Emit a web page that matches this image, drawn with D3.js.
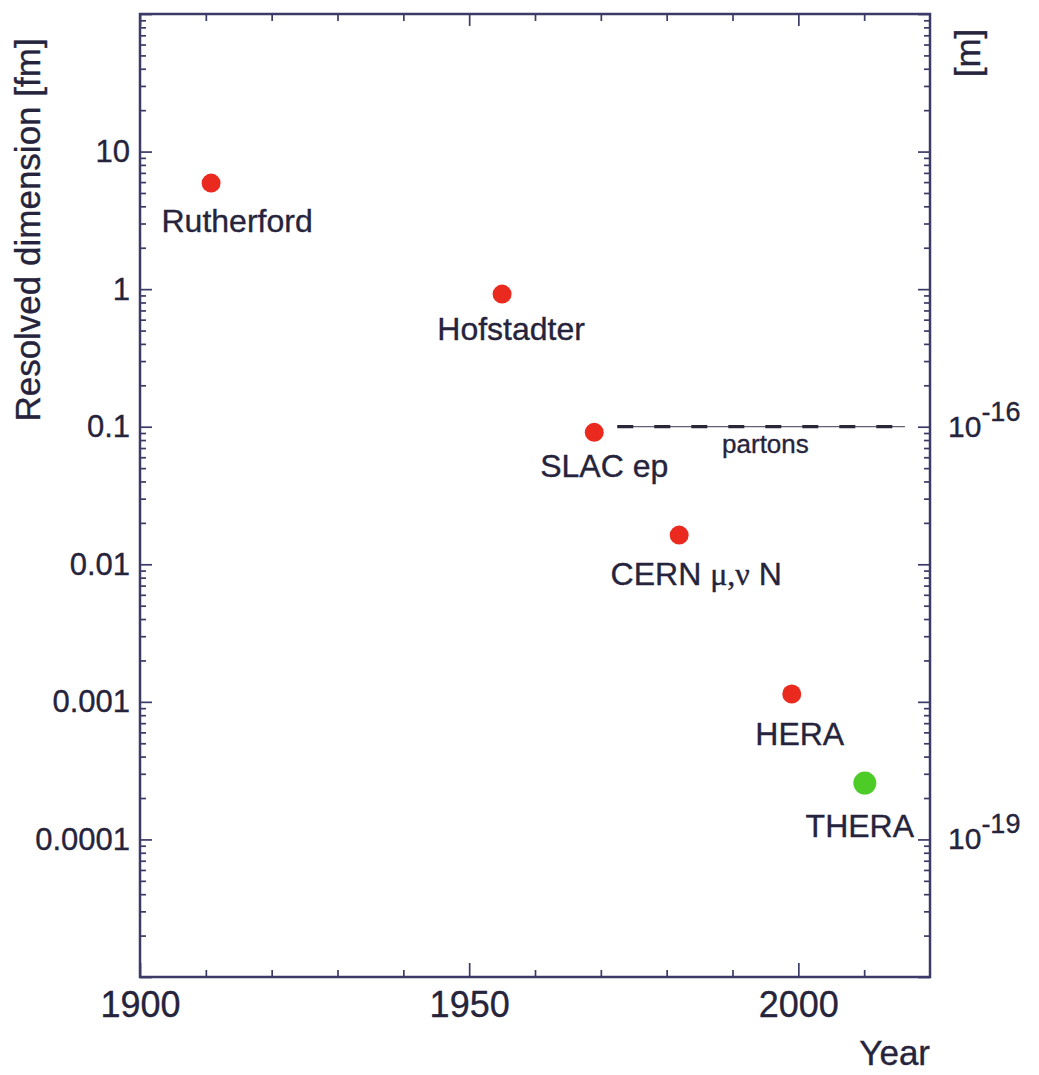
<!DOCTYPE html>
<html>
<head>
<meta charset="utf-8">
<script src="https://cdn.jsdelivr.net/npm/d3@7"></script>
<style>
  body { margin: 0; background: #fff; }
  text { font-family: "Liberation Sans", Arial, Helvetica, sans-serif; fill: #25243c; stroke: #25243c; stroke-width: 0.35px; }
</style>
</head>
<body>
<svg id="chart" width="1039" height="1075"></svg>
<script>
// data
const experiments = ["Rutherford", "Hofstadter", "SLAC ep", "CERN μ,ν N", "HERA", "THERA"];
const years = [1910.8, 1955, 1969, 1981.9, 1999, 2010.1];
const dimensionsFm = [5.9, 0.92, 0.091, 0.0163, 0.00114, 0.000257];
const proposed = [false, false, false, false, false, true];
const partonYears = [1972.5, 2016.2];
const partonSize = 0.1;
const yTickValues = [10, 1, 0.1, 0.01, 0.001, 0.0001];
const yTickLabels = ["10", "1", "0.1", "0.01", "0.001", "0.0001"];
const xTickValues = [1900, 1950, 2000];
const metreTicks = [1e-16, 1e-19];
const metreTickExponents = ["-16", "-19"];

const axisColor = "#3c3a66";
const margin = { top: 14, right: 109, bottom: 98, left: 140 };
const width = 1039, height = 1075;

const svg = d3.select("#chart");

const x = d3.scaleLinear().domain([1900, 2020]).range([margin.left, width - margin.right]);
const y = d3.scaleLog().domain([1e-5, 100]).range([height - margin.bottom, margin.top]);
const yM = d3.scaleLog().domain([1e-20, 1e-13]).range([height - margin.bottom, margin.top]);

// minor tick values (2..9 per decade, every 10 years)
const minorY = [];
for (let e = -5; e < 2; e++) {
  for (let k = 2; k <= 9; k++) minorY.push(k * Math.pow(10, e));
}
const majorY = d3.range(-5, 3).map(e => Math.pow(10, e));
const minorX = d3.range(1910, 2020, 10).filter(v => v % 50 !== 0);

const x0 = x.range()[0], x1 = x.range()[1];
const y0 = y.range()[0], y1 = y.range()[1];

function styleAxis(g) {
  g.select(".domain").remove();
  g.selectAll(".tick line").attr("stroke", axisColor).attr("stroke-width", 1.7);
}

// left axis
svg.append("g").attr("transform", `translate(${x0},0)`)
  .call(d3.axisLeft(y).tickValues(minorY).tickSize(-6).tickFormat(""))
  .call(styleAxis);
svg.append("g").attr("transform", `translate(${x0},0)`)
  .call(d3.axisLeft(y).tickValues(majorY).tickSize(-12).tickFormat(""))
  .call(styleAxis);
svg.append("g").attr("transform", `translate(${x0},0)`)
  .call(d3.axisLeft(y).tickValues(yTickValues).tickSize(0).tickPadding(10)
    .tickFormat((d, i) => yTickLabels[i]))
  .call(styleAxis)
  .selectAll("text").attr("font-size", 31).attr("fill", "#25243c")
  .attr("font-family", "Liberation Sans, Arial, sans-serif");

// right axis in metres
svg.append("g").attr("transform", `translate(${x1},0)`)
  .call(d3.axisRight(yM).tickValues(minorY.map(v => v * 1e-15)).tickSize(-6).tickFormat(""))
  .call(styleAxis);
svg.append("g").attr("transform", `translate(${x1},0)`)
  .call(d3.axisRight(yM).tickValues(majorY.map(v => v * 1e-15)).tickSize(-12).tickFormat(""))
  .call(styleAxis);
const rLab = svg.append("g").selectAll("text").data(metreTicks).join("text")
  .attr("x", x1 + 18)
  .attr("y", d => yM(d) + 10)
  .attr("font-size", 30);
rLab.append("tspan").text("10");
rLab.append("tspan").attr("font-size", 27).attr("dy", -16).text((d, i) => metreTickExponents[i]);

// bottom axis
svg.append("g").attr("transform", `translate(0,${y0})`)
  .call(d3.axisBottom(x).tickValues(minorX).tickSize(-7).tickFormat(""))
  .call(styleAxis);
svg.append("g").attr("transform", `translate(0,${y0})`)
  .call(d3.axisBottom(x).tickValues(xTickValues).tickSize(-14).tickPadding(14).tickFormat(d3.format("d")))
  .call(styleAxis)
  .selectAll("text").attr("font-size", 36).attr("fill", "#25243c")
  .attr("font-family", "Liberation Sans, Arial, sans-serif");

// top axis
svg.append("g").attr("transform", `translate(0,${y1})`)
  .call(d3.axisTop(x).tickValues(minorX).tickSize(-7).tickFormat(""))
  .call(styleAxis);
svg.append("g").attr("transform", `translate(0,${y1})`)
  .call(d3.axisTop(x).tickValues(xTickValues).tickSize(-12).tickFormat(""))
  .call(styleAxis);

// frame
svg.append("rect")
  .attr("x", x0).attr("y", y1)
  .attr("width", x1 - x0).attr("height", y0 - y1)
  .attr("fill", "none").attr("stroke", axisColor).attr("stroke-width", 2.5);

// partons line
svg.append("line")
  .attr("x1", x(partonYears[0])).attr("x2", x(partonYears[1]))
  .attr("y1", y(partonSize)).attr("y2", y(partonSize))
  .attr("stroke", "#3a3850").attr("stroke-width", 1);
svg.append("line")
  .attr("x1", x(partonYears[0])).attr("x2", x(partonYears[1]))
  .attr("y1", y(partonSize)).attr("y2", y(partonSize))
  .attr("stroke", "#2a2838").attr("stroke-width", 3.2)
  .attr("stroke-dasharray", "16,21");
svg.append("text")
  .attr("x", x(1995)).attr("y", y(partonSize) + 26)
  .attr("text-anchor", "middle").attr("font-size", 26)
  .text("partons");

// points
svg.append("g").selectAll("circle").data(years).join("circle")
  .attr("cx", d => x(d))
  .attr("cy", (d, i) => y(dimensionsFm[i]))
  .attr("r", (d, i) => proposed[i] ? 11.5 : 9.5)
  .attr("fill", (d, i) => proposed[i] ? "#4dcc28" : "#ea2a1f");

// labels offsets from their points (pixels)
const labelDx = [26, 9, 10, 17, 8, -5];
const labelDy = [49, 46, 45, 50, 51, 54];
const labels = svg.append("g").selectAll("text").data(experiments).join("text")
  .attr("x", (d, i) => x(years[i]) + labelDx[i])
  .attr("y", (d, i) => y(dimensionsFm[i]) + labelDy[i])
  .attr("text-anchor", "middle")
  .attr("font-size", 32);
labels.each(function (d) {
  const t = d3.select(this);
  const m = d.match(/^(.*?)(μ,ν)(.*)$/);
  if (m) {
    t.append("tspan").text(m[1]);
    t.append("tspan").attr("font-family", "Liberation Serif, Times New Roman, serif").text(m[2]);
    t.append("tspan").text(m[3]);
  } else {
    t.text(d);
  }
});

// axis titles
svg.append("text")
  .attr("transform", `translate(40,${(30 + 430) / 2}) rotate(-90)`)
  .attr("text-anchor", "middle").attr("font-size", 35)
  .text("Resolved dimension [fm]");
svg.append("text")
  .attr("transform", `translate(980,53) rotate(-90)`)
  .attr("text-anchor", "middle").attr("font-size", 35)
  .text("[m]");
svg.append("text")
  .attr("x", x1).attr("y", 1065)
  .attr("text-anchor", "end").attr("font-size", 35)
  .text("Year");
</script>
</body>
</html>
